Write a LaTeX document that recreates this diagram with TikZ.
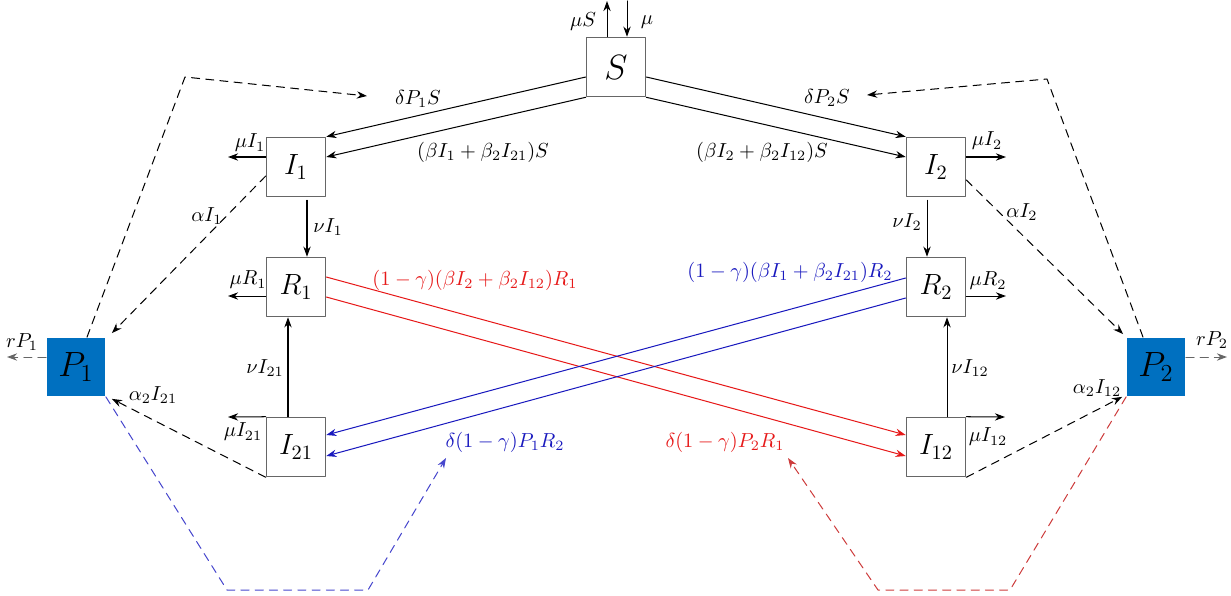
\documentclass[tikz,border=0pt]{standalone}
\usetikzlibrary{arrows.meta,calc}
\definecolor{pblue}{RGB}{0,112,192}
\definecolor{flowred}{RGB}{230,25,25}
\definecolor{dashred}{RGB}{205,60,60}
\definecolor{flowblue}{RGB}{25,25,190}
\definecolor{dashblue}{RGB}{70,70,205}

\begin{document}
\begin{tikzpicture}[x=0.492pt,y=-0.492pt,line cap=round,line join=round,
  box/.style={draw=black!60,line width=0.8pt,minimum size=29pt,inner sep=0pt,font=\Large},
  bigbox/.style={box,font=\LARGE},
  pbox/.style={fill=pblue,minimum size=29pt,inner sep=0pt,font=\LARGE},
  flow/.style={-{Stealth[length=5pt,width=3.6pt]},line width=0.5pt},
  dashflow/.style={flow,dash pattern=on 4pt off 3pt},
  lab/.style={inner sep=1pt}]
\useasboundingbox (0,0) rectangle (1231,595);
\node[bigbox] (S) at (616,67) {$S$};
\node[box] (I1) at (296,167) {$I_1$};
\node[box] (I2) at (936,167) {$I_2$};
\node[box] (R1) at (296,287) {$R_1$};
\node[box] (R2) at (936,287) {$R_2$};
\node[box] (I21) at (296,447) {$I_{21}$};
\node[box] (I12) at (936,447) {$I_{12}$};
\node[pbox] (P1) at (76,367) {$P_1$};
\node[pbox] (P2) at (1156,367) {$P_2$};
\coordinate (muSout) at (607,1);
\coordinate (muin) at (627,1);
\coordinate (muI1) at (228,157);
\coordinate (muI2) at (1006,157);
\coordinate (muR1) at (228,296);
\coordinate (muR2) at (1006,296);
\coordinate (muI21) at (228,417);
\coordinate (muI12) at (1005,417);
\coordinate (rP1) at (7,357);
\coordinate (rP2) at (1227,357);
\coordinate (cP1) at (185,77);
\coordinate (tipP1) at (367,96);
\coordinate (cP2) at (1047,79);
\coordinate (tipP2) at (867,95);
\coordinate (bl1) at (227,590);
\coordinate (bl2) at (368,590);
\coordinate (bltip) at (446,458);
\coordinate (rd1) at (1010,590);
\coordinate (rd2) at (878,590);
\coordinate (rdtip) at (788,458);
\draw[flow] (S.north -| muSout) -- (muSout);
\draw[flow] (muin) -- (muin |- S.north);
\draw[flow] ($(S.west)+(0,10)$) -- (I1.north east);
\draw[flow] (S.south west) -- ($(I1.east)+(0,-10)$);
\draw[flow] ($(S.east)+(0,10)$) -- (I2.north west);
\draw[flow] (S.south east) -- ($(I2.west)+(0,-10)$);
\draw[flow] (I1.west |- muI1) -- (muI1);
\draw[flow] (I2.east |- muI2) -- (muI2);
\draw[flow] (R1.west |- muR1) -- (muR1);
\draw[flow] (R2.east |- muR2) -- (muR2);
\draw[flow] (I21.north west) -- (muI21);
\draw[flow] (I12.north east) -- (muI12);
\draw[flow] ($(I1.south)+(11,3)$) -- ($(R1.north)+(11,0)$);
\draw[flow] ($(I2.south)+(-9,3)$) -- ($(R2.north)+(-9,0)$);
\draw[flow] ($(I21.north)+(-8,0)$) -- ($(R1.south)+(-8,0)$);
\draw[flow] ($(I12.north)+(11,0)$) -- ($(R2.south)+(11,0)$);
\draw[flow,flowred] ($(R1.east)+(0,-10)$) -- ($(I12.west)+(0,-12)$);
\draw[flow,flowred] ($(R1.east)+(0,10)$) -- ($(I12.west)+(0,9)$);
\draw[flow,flowblue] ($(R2.west)+(0,-9)$) -- ($(I21.east)+(0,-12)$);
\draw[flow,flowblue] ($(R2.west)+(0,11)$) -- ($(I21.east)+(0,9)$);
\draw[dashflow] ($(I1.west)+(0,9)$) -- ($(P1.north east)+(6,-4)$);
\draw[dashflow] ($(I2.east)+(0,13)$) -- ($(P2.north west)+(-3,-3)$);
\draw[dashflow] (I21.south west) -- ($(P1.south east)+(6,2)$);
\draw[dashflow] (I12.south east) -- ($(P2.south west)+(-4,0)$);
\draw[dashflow] ($(P1.north)+(11,0)$) -- (cP1) -- (tipP1);
\draw[dashflow] ($(P2.north)+(-13,0)$) -- (cP2) -- (tipP2);
\draw[dashflow,black!60] (P1.west |- rP1) -- (rP1);
\draw[dashflow,black!60] (P2.east |- rP2) -- (rP2);
\draw[dashflow,dashblue] (P1.south east) -- (bl1) -- (bl2) -- (bltip);
\draw[dashflow,dashred] (P2.south west) -- (rd1) -- (rd2) -- (rdtip);
\node[lab] (lmuS) at (583,22) {$\mu S$};
\node[lab] (lmu) at (647,22) {$\mu$};
\node[lab] (ldP1S) at (418,99) {$\delta P_1 S$};
\node[lab] (linfS1) at (483,152) {$(\beta I_1+\beta_2 I_{21})S$};
\node[lab] (ldP2S) at (827,98) {$\delta P_2 S$};
\node[lab] (linfS2) at (762,152) {$(\beta I_2+\beta_2 I_{12})S$};
\node[lab] (lmuI1) at (250,143) {$\mu I_1$};
\node[lab] (lmuI2) at (987,141) {$\mu I_2$};
\node[lab] (lmuR1) at (248,280) {$\mu R_1$};
\node[lab] (lmuR2) at (988,281) {$\mu R_2$};
\node[lab] (lmuI21) at (243,432) {$\mu I_{21}$};
\node[lab] (lmuI12) at (988,437) {$\mu I_{12}$};
\node[lab] (lnuI1) at (328,227) {$\nu I_1$};
\node[lab] (lnuI2) at (907,222) {$\nu I_2$};
\node[lab] (lnuI21) at (265,368) {$\nu I_{21}$};
\node[lab] (lnuI12) at (970,368) {$\nu I_{12}$};
\node[lab] (laI1) at (207,216) {$\alpha I_1$};
\node[lab] (laI2) at (1022,212) {$\alpha I_2$};
\node[lab] (la2I21) at (153,395) {$\alpha_2 I_{21}$};
\node[lab] (la2I12) at (1097,388) {$\alpha_2 I_{12}$};
\node[lab] (lrP1) at (22,342) {$rP_1$};
\node[lab] (lrP2) at (1212,340) {$rP_2$};
\node[lab,text=flowred] (lR1) at (475,280) {$(1-\gamma)(\beta I_2+\beta_2 I_{12})R_1$};
\node[lab,text=flowblue] (lR2) at (790,272) {$(1-\gamma)(\beta I_1+\beta_2 I_{21})R_2$};
\node[lab,text=flowblue] (ldP1R2) at (505,442) {$\delta(1-\gamma)P_1 R_2$};
\node[lab,text=flowred] (ldP2R1) at (725,442) {$\delta(1-\gamma)P_2 R_1$};
\end{tikzpicture}
\end{document}
